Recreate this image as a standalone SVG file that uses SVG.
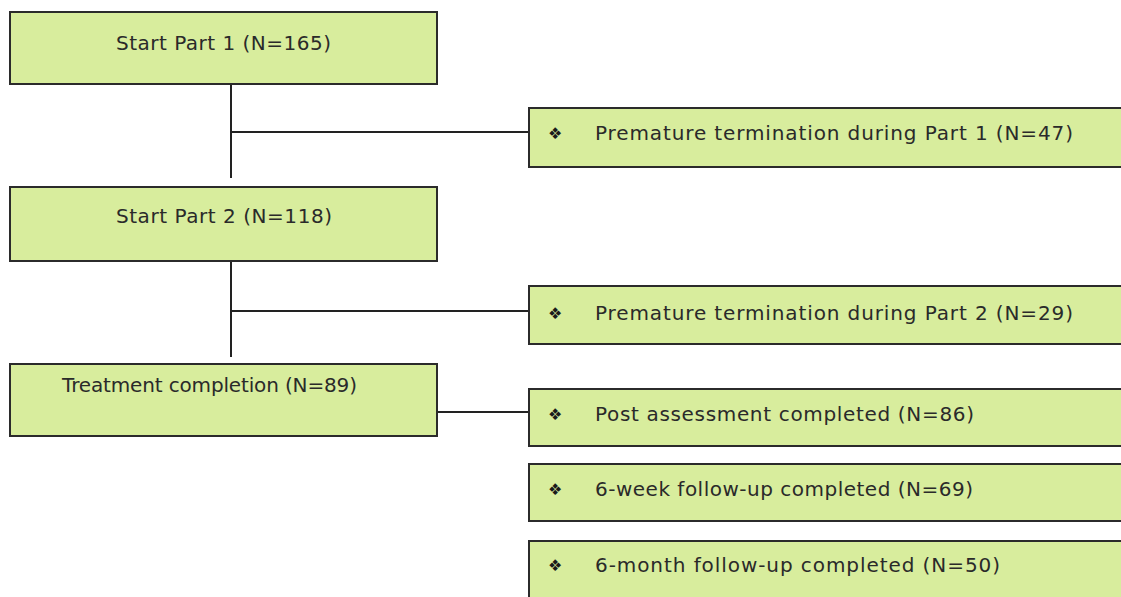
<svg xmlns="http://www.w3.org/2000/svg" width="1121" height="597" viewBox="0 0 1121 597">
<style>
.box{fill:#d8ed9d;stroke:#2b2b2b;stroke-width:2}
.t{font-family:"DejaVu Sans",sans-serif;font-size:20px;fill:#2a2a2a}
.b{font-family:"DejaVu Sans",sans-serif;font-size:16px;fill:#1a1a1a}
.ln{stroke:#222;stroke-width:2;fill:none}
</style>
<rect width="1121" height="597" fill="#fff"/>
<g id="connectors">
<path class="ln" d="M231 85V178M231 132H528"/>
<path class="ln" d="M231 262V357M231 311H528"/>
<path class="ln" d="M437 412H528"/>
</g>
<g id="n1"><rect class="box" x="10" y="12" width="427" height="72"/><text class="t" x="116" y="50" textLength="215" lengthAdjust="spacing">Start Part 1 (N=165)</text></g>
<g id="n2"><rect class="box" x="529" y="108" width="600" height="59"/><text class="b" x="548" y="139">❖</text><text class="t" x="595" y="140" textLength="478" lengthAdjust="spacing">Premature termination during Part 1 (N=47)</text></g>
<g id="n3"><rect class="box" x="10" y="187" width="427" height="74"/><text class="t" x="116" y="223" textLength="216" lengthAdjust="spacing">Start Part 2 (N=118)</text></g>
<g id="n4"><rect class="box" x="529" y="286" width="600" height="58"/><text class="b" x="548" y="319">❖</text><text class="t" x="595" y="320" textLength="478" lengthAdjust="spacing">Premature termination during Part 2 (N=29)</text></g>
<g id="n5"><rect class="box" x="10" y="364" width="427" height="72"/><text class="t" x="62" y="392" textLength="295" lengthAdjust="spacing">Treatment completion (N=89)</text></g>
<g id="n6"><rect class="box" x="529" y="389" width="600" height="57"/><text class="b" x="548" y="420">❖</text><text class="t" x="595" y="421" textLength="379" lengthAdjust="spacing">Post assessment completed (N=86)</text></g>
<g id="n7"><rect class="box" x="529" y="464" width="600" height="57"/><text class="b" x="548" y="495">❖</text><text class="t" x="595" y="496" textLength="378" lengthAdjust="spacing">6-week follow-up completed (N=69)</text></g>
<g id="n8"><rect class="box" x="529" y="541" width="600" height="70"/><text class="b" x="548" y="571">❖</text><text class="t" x="595" y="572" textLength="405" lengthAdjust="spacing">6-month follow-up completed (N=50)</text></g>
</svg>
